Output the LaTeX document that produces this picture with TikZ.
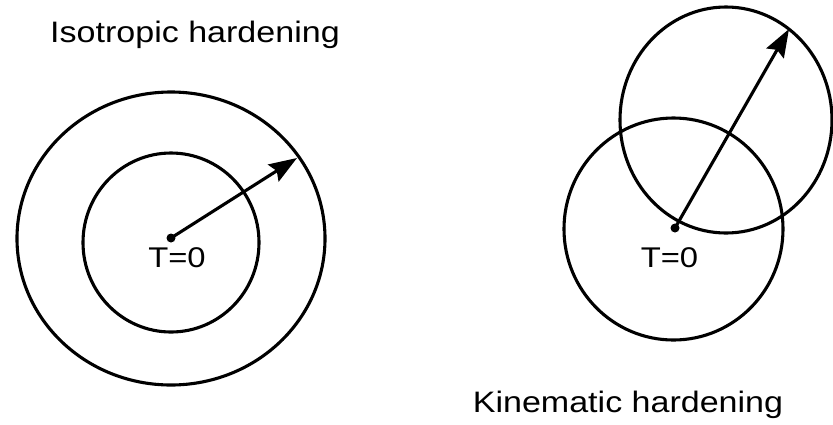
\documentclass[tikz,border=0pt]{standalone}
\usepackage{fontspec}
\setmainfont{Liberation Sans}[FakeStretch=1.15]
\usetikzlibrary{arrows.meta}
\begin{document}
\begin{tikzpicture}[x=1pt,y=-1pt,
  curve/.style={line width=3.1pt},
  pole/.style={circle,fill=black,inner sep=0pt,minimum size=9pt},
  radius arrow/.style={line width=3.1pt,-{Stealth[length=28pt,width=20pt,inset=4pt]}},
  title/.style={font=\fontsize{29.6}{34}\selectfont,inner sep=0pt,anchor=base},
  tlabel/.style={font=\fontsize{28.5}{32}\selectfont,inner sep=0pt,anchor=base}]
\useasboundingbox (0,0) rectangle (833,424);

% isotropic hardening: yield surface grows about a fixed centre
\draw[curve] (171,238.5) ellipse [x radius=154, y radius=146.5];
\draw[curve] (171,242.5) ellipse [x radius=88, y radius=89.5];
\node[pole] (c1) at (171,238) {};
\coordinate (r1) at (297,158);
\draw[radius arrow] (c1.center) -- (r1);
\node[tlabel] (t1) at (177,267) {T=0};
\node[title] (iso) at (195,42) {Isotropic hardening};

% kinematic hardening: yield surface translates
\draw[curve] (673.5,229) ellipse [x radius=109.5, y radius=111];
\draw[curve] (726,120) ellipse [x radius=106, y radius=113];
\node[pole] (c2) at (675,228) {};
\coordinate (r2) at (789,29);
\draw[radius arrow] (c2.center) -- (r2);
\node[tlabel] (t2) at (669.5,267) {T=0};
\node[title] (kin) at (628,412) {Kinematic hardening};
\end{tikzpicture}
\end{document}
